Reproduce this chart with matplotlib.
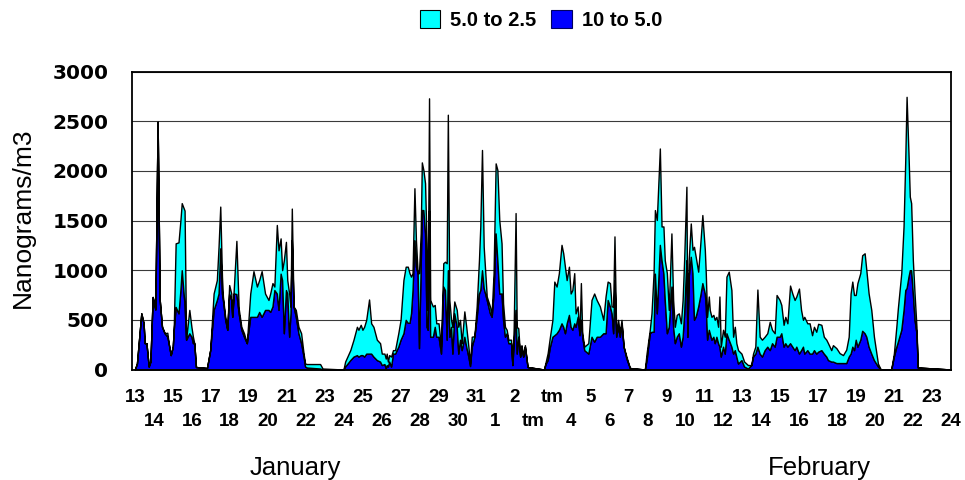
import matplotlib
matplotlib.use("Agg")
import matplotlib.pyplot as plt
from matplotlib.patches import Patch

# Sample times in days after 00:00 on January 13
t_days = [
    0.00, 0.11, 0.34, 0.46, 0.52, 0.61, 0.73, 0.82, 0.94, 1.08,
    1.20, 1.31, 1.43, 1.57, 1.71, 1.78, 1.89, 2.00, 2.05, 2.15,
    2.30, 2.40, 2.47, 2.62, 2.70, 2.87, 2.98, 3.06, 3.13, 3.22,
    3.80, 3.97, 4.15, 4.32, 4.41, 4.50, 4.59, 4.64, 4.76, 4.87,
    4.97, 5.08, 5.13, 5.22, 5.35, 5.47, 5.61, 5.75, 5.90, 6.08,
    6.25, 6.43, 6.55, 6.68, 6.86, 7.04, 7.13, 7.25, 7.35, 7.48,
    7.57, 7.68, 7.76, 7.85, 7.96, 8.03, 8.13, 8.20, 8.27, 8.36,
    8.48, 8.62, 8.76, 8.89, 8.97, 9.06, 9.76, 9.89, 10.99, 11.08,
    11.35, 11.52, 11.70, 11.78, 11.90, 11.99, 12.08, 12.19, 12.34, 12.45,
    12.57, 12.75, 12.92, 13.01, 13.15, 13.22, 13.27, 13.33, 13.40, 13.50,
    13.60, 13.71, 13.88, 14.00, 14.15, 14.27, 14.38, 14.47, 14.55, 14.63,
    14.73, 14.81, 14.90, 14.97, 15.06, 15.12, 15.20, 15.29, 15.37, 15.43,
    15.50, 15.56, 15.70, 15.80, 15.88, 16.00, 16.13, 16.25, 16.34, 16.43,
    16.49, 16.57, 16.66, 16.73, 16.83, 16.96, 17.04, 17.13, 17.22, 17.36,
    17.46, 17.57, 17.66, 17.75, 17.89, 18.01, 18.13, 18.20, 18.29, 18.38,
    18.54, 18.71, 18.80, 18.90, 19.01, 19.10, 19.20, 19.32, 19.40, 19.50,
    19.59, 19.68, 19.82, 19.89, 19.96, 20.06, 20.12, 20.20, 20.30, 20.37,
    20.46, 20.55, 20.69, 21.55, 21.65, 21.75, 21.87, 22.00, 22.10, 22.22,
    22.34, 22.48, 22.57, 22.66, 22.75, 22.87, 22.96, 23.05, 23.15, 23.22,
    23.33, 23.43, 23.50, 23.57, 23.68, 23.89, 24.06, 24.20, 24.33, 24.50,
    24.68, 24.80, 24.91, 25.03, 25.12, 25.20, 25.27, 25.36, 25.46, 25.55,
    25.64, 25.75, 25.90, 26.08, 26.87, 26.96, 27.13, 27.22, 27.33, 27.40,
    27.50, 27.66, 27.75, 27.85, 27.92, 28.03, 28.13, 28.27, 28.36, 28.45,
    28.55, 28.66, 28.77, 28.86, 28.94, 29.06, 29.11, 29.18, 29.29, 29.38,
    29.46, 29.55, 29.68, 29.78, 29.90, 30.03, 30.08, 30.15, 30.24, 30.29,
    30.38, 30.48, 30.55, 30.64, 30.73, 30.80, 30.87, 30.99, 31.08, 31.17,
    31.29, 31.43, 31.52, 31.61, 31.69, 31.78, 31.96, 32.10, 32.30, 32.48,
    32.57, 32.69, 32.80, 32.92, 33.04, 33.18, 33.32, 33.45, 33.57, 33.71,
    33.81, 33.97, 34.06, 34.18, 34.27, 34.38, 34.52, 34.64, 34.76, 34.85,
    34.99, 35.10, 35.20, 35.27, 35.43, 35.55, 35.68, 35.78, 35.90, 36.00,
    36.17, 36.30, 36.43, 36.52, 36.69, 36.78, 36.96, 37.13, 37.31, 37.48,
    37.61, 37.71, 37.80, 37.89, 37.98, 38.07, 38.22, 38.32, 38.45, 38.54,
    38.66, 38.80, 38.94, 39.15, 39.30, 39.85, 39.99, 40.12, 40.20, 40.38,
    40.50, 40.59, 40.66, 40.76, 40.83, 40.90, 40.99, 41.08, 41.18, 41.25, 43.00,
]

# 10 to 5.0 size fraction, ng/m3
coarse = [
    0, 60, 565, 465, 265, 265, 30, 80, 730, 605,
    2495, 700, 430, 365, 330, 265, 145, 230, 400, 630,
    565, 800, 1000, 650, 300, 365, 330, 265, 265, 25,
    15, 195, 600, 700, 765, 1220, 765, 700, 500, 400,
    765, 700, 530, 765, 760, 565, 400, 330, 265, 530,
    530, 530, 580, 530, 600, 600, 580, 635, 800, 765,
    600, 965, 900, 365, 800, 765, 330, 565, 1300, 635,
    530, 365, 265, 130, 30, 20, 10, 0, 0, 30,
    95, 130, 145, 130, 145, 145, 130, 160, 160, 160,
    130, 95, 80, 45, 55, 10, 45, 30, 80, 30,
    160, 160, 230, 300, 365, 500, 470, 470, 565, 800,
    1300, 1035, 970, 215, 1035, 1605, 1605, 1370, 430, 400,
    1600, 330, 330, 430, 330, 330, 160, 835, 800, 300,
    1000, 330, 430, 160, 565, 430, 160, 300, 195, 330,
    230, 130, 35, 230, 330, 530, 765, 800, 1000, 820,
    700, 565, 530, 765, 1370, 1100, 765, 765, 500, 330,
    365, 265, 265, 45, 265, 600, 160, 330, 130, 230,
    130, 230, 25, 0, 60, 95, 230, 330, 345, 365,
    400, 465, 430, 365, 465, 550, 430, 400, 465, 430,
    530, 345, 500, 330, 195, 160, 330, 280, 330, 330,
    365, 365, 700, 635, 565, 365, 900, 330, 430, 330,
    465, 230, 110, 15, 0, 95, 365, 380, 380, 965,
    565, 1255, 1100, 965, 700, 365, 430, 835, 430, 265,
    330, 365, 230, 330, 565, 1100, 330, 935, 1135, 970,
    500, 535, 635, 735, 870, 765, 635, 300, 400, 365,
    300, 330, 265, 330, 265, 230, 130, 230, 160, 365,
    300, 230, 160, 195, 130, 60, 95, 30, 10, 45,
    130, 160, 230, 160, 130, 195, 230, 195, 265, 230,
    330, 330, 365, 230, 265, 230, 265, 230, 195, 230,
    160, 195, 230, 160, 195, 160, 160, 195, 160, 180,
    195, 160, 130, 95, 80, 80, 65, 65, 65, 65,
    130, 160, 230, 195, 300, 230, 300, 390, 365, 330,
    230, 160, 95, 30, 0, 0, 130, 230, 280, 400,
    600, 800, 820, 935, 1000, 1000, 765, 500, 365, 20, 0,
]

# 5.0 to 2.5 size fraction, ng/m3
fine = [
    0, 0, 0, 0, 0, 0, 0, 0, 0, 0,
    0, 0, 0, 0, 40, 0, 0, 0, 20, 640,
    715, 700, 675, 950, 0, 235, 100, 65, 0, 0,
    0, 0, 165, 200, 470, 420, 170, 35, 30, 0,
    85, 65, 0, 70, 535, 50, 30, 35, 0, 235,
    460, 305, 320, 460, 165, 100, 185, 235, 35, 690,
    600, 355, 100, 735, 485, 135, 435, 70, 320, 0,
    70, 65, 100, 30, 30, 35, 45, 10, 0, 50,
    100, 170, 285, 270, 305, 255, 300, 340, 545, 305,
    300, 205, 185, 115, 105, 100, 115, 50, 65, 100,
    35, 35, 135, 200, 535, 535, 565, 500, 370, 170,
    525, 265, 0, 755, 335, 480, 405, 505, 840, 200,
    1130, 370, 305, 220, 135, 135, 70, 235, 285, 770,
    1565, 370, 70, 270, 120, 170, 270, 200, 70, 255,
    200, 105, 25, 100, 5, 105, 335, 640, 1210, 415,
    35, 70, 35, 205, 705, 910, 740, 505, 165, 100,
    35, 35, 35, 0, 150, 975, 270, 85, 0, 15,
    0, 15, 0, 0, 20, 70, 100, 170, 540, 470,
    570, 790, 740, 670, 435, 485, 335, 400, 505, 135,
    105, 20, 370, 35, 35, 105, 370, 485, 370, 305,
    135, 370, 185, 235, 70, 270, 440, 35, 70, 35,
    35, 0, 20, 0, 0, 65, 35, 185, 590, 640,
    940, 970, 340, 475, 400, 605, 170, 535, 270, 165,
    220, 200, 235, 370, 535, 740, 0, 165, 335, 235,
    735, 600, 350, 500, 685, 440, 335, 230, 335, 235,
    230, 220, 235, 200, 165, 505, 100, 170, 170, 570,
    685, 570, 170, 235, 135, 135, 65, 50, 35, 0,
    30, 70, 575, 170, 170, 135, 135, 285, 135, 135,
    420, 370, 285, 220, 265, 235, 580, 535, 505, 505,
    655, 405, 270, 370, 270, 305, 185, 235, 220, 280,
    255, 170, 170, 170, 115, 165, 150, 100, 80, 135,
    200, 605, 655, 555, 450, 640, 670, 760, 805, 670,
    535, 440, 235, 30, 0, 0, 30, 200, 335, 570,
    840, 1310, 1925, 1240, 740, 675, 335, 265, 65, 0, 0,
]

# Day labels along the time axis (one per day)
day_labels = ([str(d) for d in range(13, 32)] + ["1", "2", "tm", "tm"]
              + [str(d) for d in range(4, 25)])

series_names = ["10 to 5.0", "5.0 to 2.5"]
series_colors = ["#0000FF", "#00FFFF"]

assert len(t_days) == len(coarse) == len(fine)

fig = plt.figure(figsize=(9.65, 4.8), dpi=100)
ax = fig.add_axes([132 / 965, 1 - 369.5 / 480, (951 - 132) / 965, (369.5 - 71.5) / 480])

ax.stackplot(t_days, coarse, fine, colors=series_colors,
             edgecolor="black", linewidth=1.0)

ax.set_xlim(-0.15, 43.0)
ax.set_ylim(0, 3000)
ax.set_yticks(range(0, 3001, 500))
ax.yaxis.grid(True, color="#3a3a3a", linewidth=0.8)
ax.set_axisbelow(True)
for sp in ax.spines.values():
    sp.set_color("black")
    sp.set_linewidth(1.3)

# Two staggered rows of day labels
idx = list(range(len(day_labels)))
ax.set_xticks(idx[0::2], day_labels[0::2])
ax.set_xticks(idx[1::2], day_labels[1::2], minor=True)
ax.tick_params(axis="x", which="major", length=0, pad=14.0)
ax.tick_params(axis="x", which="minor", length=0, pad=31.5)
for lab in ax.get_xticklabels(which="both"):
    lab.set_fontfamily("Liberation Sans")
    lab.set_fontweight("bold")
    lab.set_fontsize(13.5)

ax.tick_params(axis="y", length=0, pad=17)
for lab in ax.get_yticklabels():
    lab.set_fontfamily("DejaVu Sans")
    lab.set_fontweight("bold")
    lab.set_fontsize(14.5)

fig.text(23 / 965, 1 - 218 / 480, "Nanograms/m3", rotation=90, ha="center",
         va="center", fontsize=19, family="Liberation Sans")
fig.text(295 / 965, 1 - 475 / 480, "January", ha="center", va="baseline",
         fontsize=18.5, family="Liberation Sans")
fig.text(819.5 / 965, 1 - 475 / 480, "February", ha="center", va="baseline",
         fontsize=18.5, family="Liberation Sans")

handles = [Patch(facecolor=series_colors[1], edgecolor="black", linewidth=0.8, label=series_names[1]),
           Patch(facecolor=series_colors[0], edgecolor="#000060", linewidth=0.8, label=series_names[0])]
fig.legend(handles=handles, loc="center", bbox_to_anchor=(541 / 965, 1 - 20 / 480),
           ncol=2, frameon=False,
           prop={"family": "Liberation Sans", "weight": "bold", "size": 14.5},
           handlelength=1.0, handleheight=1.0, handletextpad=0.5,
           columnspacing=0.75, borderpad=0, borderaxespad=0)

fig.savefig("out.png", dpi=100)
